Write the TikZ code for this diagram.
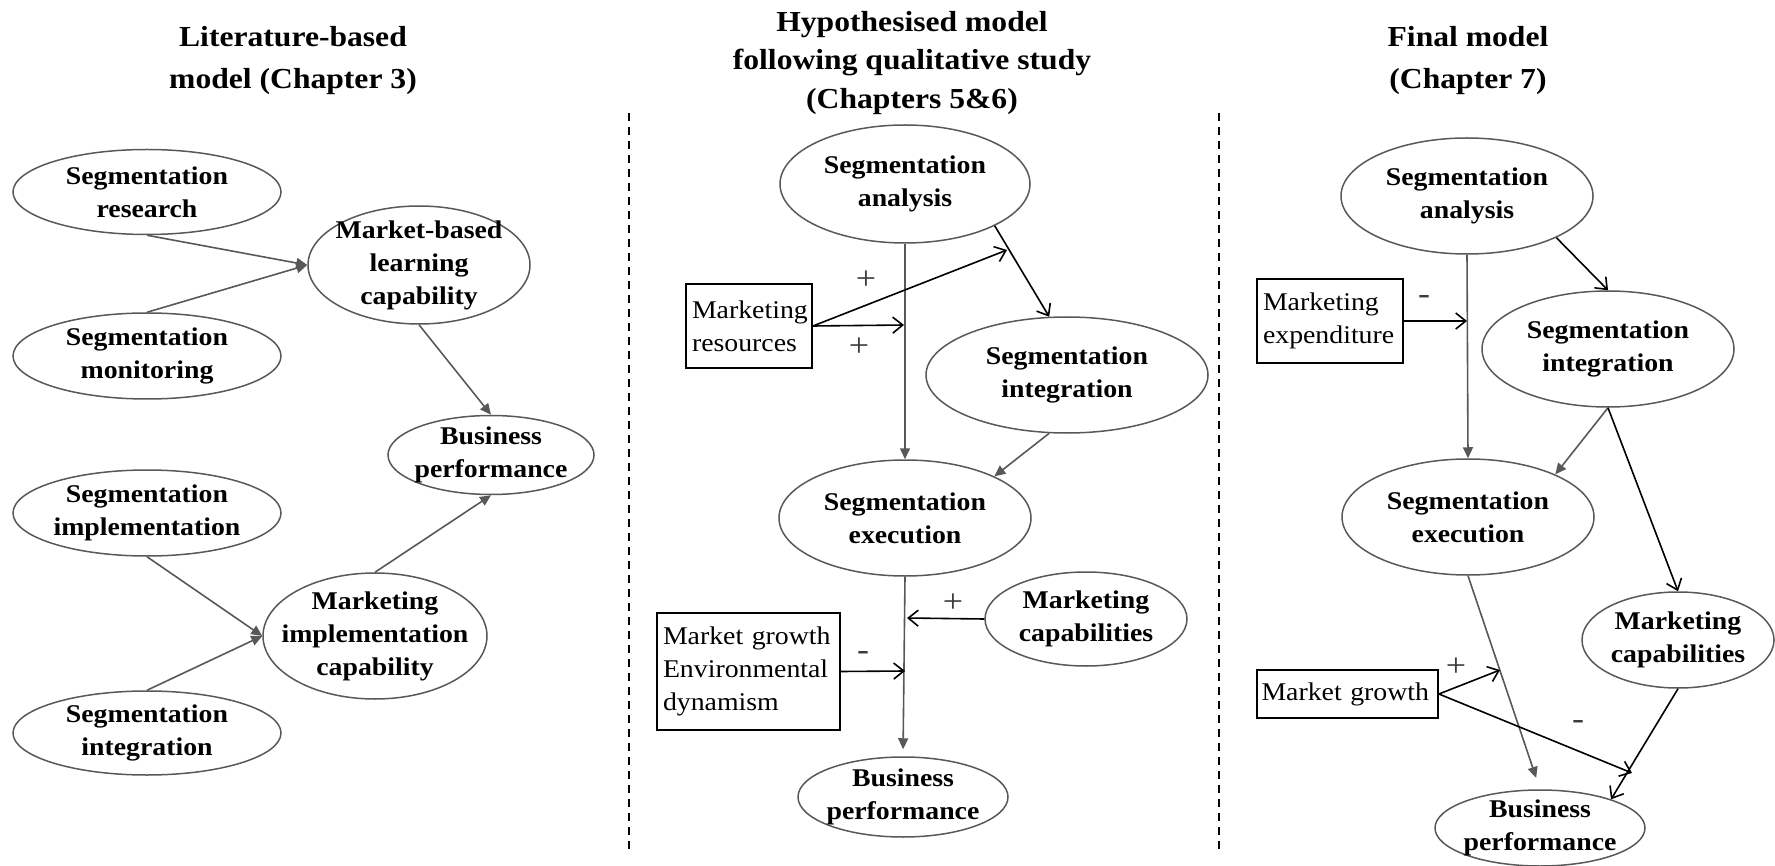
\documentclass[tikz,border=0pt]{standalone}
\usepackage{fontspec}
\setmainfont{Liberation Serif}[FakeStretch=1.09]
\usetikzlibrary{arrows.meta,shapes.geometric}
\definecolor{lg}{RGB}{88,88,88}
\definecolor{pm}{RGB}{60,60,60}
\begin{document}
\begin{tikzpicture}[x=1pt,y=-1pt,
  ell/.style={ellipse, draw=lg, line width=1.5pt, inner sep=0pt},
  elltxt/.style={font=\fontsize{25.5}{33}\selectfont\bfseries, align=center, inner sep=0pt},
  box/.style={draw=black, line width=1.8pt, font=\fontsize{25.5}{33}\selectfont, align=left, inner sep=0pt},
  ttl/.style={font=\fontsize{29}{42}\selectfont\bfseries, anchor=base, inner sep=0pt},
  garr/.style={draw=lg, line width=1.6pt, -{Triangle[length=11pt,width=10pt]}},
  barr/.style={draw=black, line width=1.6pt, -{Straight Barb[length=10pt,width=16pt]}},
  sgn/.style={font=\fontsize{33}{36}\selectfont, text=pm, inner sep=0pt},
  dline/.style={draw=black, line width=1.5pt, dash pattern=on 8pt off 6pt}]
\useasboundingbox (0,0) rectangle (1775,866);

% ---------- titles ----------
\node[ttl] (t1a) at (293,47) {Literature-based};
\node[ttl] (t1b) at (293,89) {model (Chapter 3)};
\node[ttl] (t2a) at (912,32) {Hypothesised model};
\node[ttl] (t2b) at (912,70) {following qualitative study};
\node[ttl] (t2c) at (912,109) {(Chapters 5\&6)};
\node[ttl] (t3a) at (1468,47) {Final model};
\node[ttl] (t3b) at (1468,89) {(Chapter 7)};

% ---------- separators ----------
\draw[dline] (629,113) -- (629,852);
\draw[dline] (1219,113) -- (1219,852);

% ---------- panel 1 ----------
\node[ell, minimum width=268pt, minimum height=85pt] (res) at (147,192) {};
\node[elltxt] (resT) at (res) {Segmentation\\research};
\node[ell, minimum width=268pt, minimum height=86pt] (mon) at (147,356) {};
\node[elltxt] (monT) at (mon) {Segmentation\\monitoring};
\node[ell, minimum width=222pt, minimum height=118pt] (mbl) at (419,265) {};
\node[elltxt] (mblT) at (mbl) {Market-based\\learning\\capability};
\node[ell, minimum width=206pt, minimum height=79pt] (bp1) at (491,455) {};
\node[elltxt] (bp1T) at (bp1) {Business\\performance};
\node[ell, minimum width=268pt, minimum height=86pt] (imp) at (147,513) {};
\node[elltxt] (impT) at (imp) {Segmentation\\implementation};
\node[ell, minimum width=224pt, minimum height=126pt] (mic) at (375,636) {};
\node[elltxt] (micT) at (mic) {Marketing\\implementation\\capability};
\node[ell, minimum width=268pt, minimum height=84pt] (int1) at (147,733) {};
\node[elltxt] (int1T) at (int1) {Segmentation\\integration};

\draw[garr] (res.south) -- (mbl.west);
\draw[garr] (mon.north) -- (mbl.west);
\draw[garr] (mbl.south) -- (bp1.north);
\draw[garr] (imp.south) -- (mic.west);
\draw[garr] (int1.north) -- (mic.west);
\draw[garr] (mic.north) -- (bp1.south);

% ---------- panel 2 ----------
\node[ell, minimum width=250pt, minimum height=118pt] (ana2) at (905,184) {};
\node[elltxt] (ana2T) at (ana2) {Segmentation\\analysis};
\node[box, minimum height=84pt, text width=114pt, inner xsep=6pt] (mr) at (749,326) {Marketing\\resources};
\node[ell, minimum width=282pt, minimum height=116pt] (int2) at (1067,375) {};
\node[elltxt] (int2T) at (int2) {Segmentation\\integration};
\node[ell, minimum width=252pt, minimum height=116pt] (exe2) at (905,518) {};
\node[elltxt] (exe2T) at (exe2) {Segmentation\\execution};
\node[ell, minimum width=202pt, minimum height=94pt] (mc2) at (1086,619) {};
\node[elltxt] (mc2T) at (mc2) {Marketing\\capabilities};
\node[box, minimum height=117pt, text width=171pt, inner xsep=6pt] (mg2) at (748.5,671.5) {Market growth\\Environmental\\dynamism};
\node[ell, minimum width=210pt, minimum height=80pt] (bp2) at (903,797) {};
\node[elltxt] (bp2T) at (bp2) {Business\\performance};

\coordinate (a2) at (904,325);
\coordinate (b2) at (1007,250);
\coordinate (c2) at (907,618);
\coordinate (d2) at (905,671);

\draw[garr] (ana2.south) -- (exe2.north);
\draw[garr, shorten >=7pt] (exe2.south) -- (bp2.north);
\draw[barr] (ana2.-25) -- (int2.107);
\draw[garr] (int2.253) -- (exe2.25);
\draw[barr] (mr.east) -- (a2);
\draw[barr] (mr.east) -- (b2);
\draw[barr] (mc2.west) -- (c2);
\draw[barr] (mg2.east) -- (d2);

\node[sgn] (p2a) at (866,280) {+};
\node[sgn] (p2b) at (859,347) {+};
\node[sgn] (p2c) at (953,603) {+};
\node[sgn] (m2a) at (863,656) {-};

% ---------- panel 3 ----------
\node[ell, minimum width=252pt, minimum height=116pt] (ana3) at (1467,196) {};
\node[elltxt] (ana3T) at (ana3) {Segmentation\\analysis};
\node[box, minimum height=84pt, text width=134pt, inner xsep=6pt] (me) at (1330,321) {Marketing\\expenditure};
\node[ell, minimum width=252pt, minimum height=116pt] (int3) at (1608,349) {};
\node[elltxt] (int3T) at (int3) {Segmentation\\integration};
\node[ell, minimum width=252pt, minimum height=116pt] (exe3) at (1468,517) {};
\node[elltxt] (exe3T) at (exe3) {Segmentation\\execution};
\node[ell, minimum width=192pt, minimum height=96pt] (mc3) at (1678,640) {};
\node[elltxt] (mc3T) at (mc3) {Marketing\\capabilities};
\node[box, minimum height=48pt, text width=172pt, inner xsep=4.5pt] (mg3) at (1347.5,694) {Market~growth};
\node[ell, minimum width=210pt, minimum height=76pt] (bp3) at (1540,828) {};
\node[elltxt] (bp3T) at (bp3) {Business\\performance};

\coordinate (e3) at (1467,321);
\coordinate (f3) at (1500,670);
\coordinate (g3) at (1632,773);

\draw[garr] (ana3.south) -- (exe3.north);
\draw[barr] (me.east) -- (e3);
\draw[barr] (ana3.-25) -- (int3.north);
\draw[garr] (int3.south) -- (exe3.26);
\draw[barr] (int3.south) -- (mc3.north);
\draw[garr, shorten >=12pt] (exe3.south) -- (bp3.north);
\draw[barr] (mg3.east) -- (f3);
\draw[barr] (mg3.east) -- (g3);
\draw[barr] (mc3.south) -- (bp3.22);

\node[sgn] (m3a) at (1424,300) {-};
\node[sgn] (p3a) at (1456,667) {+};
\node[sgn] (m3b) at (1578,725) {-};
\end{tikzpicture}
\end{document}
